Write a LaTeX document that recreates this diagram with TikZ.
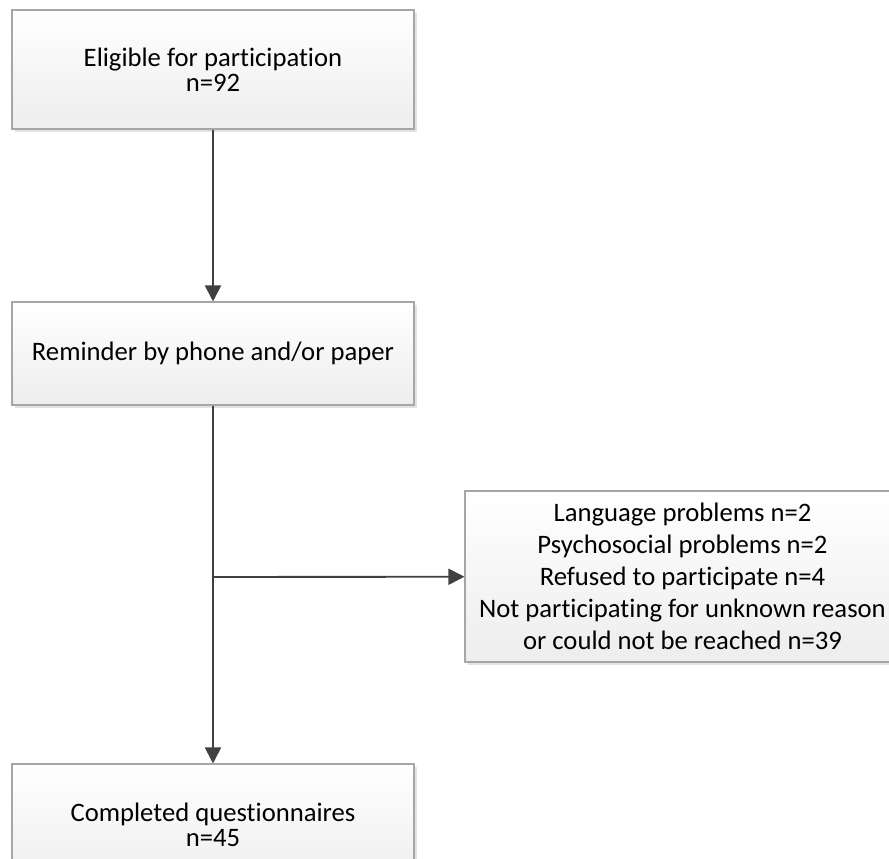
\documentclass[tikz,border=0pt]{standalone}
\usepackage{fontspec}
\setmainfont{Carlito}[Ligatures=NoCommon]
\usetikzlibrary{arrows.meta,positioning,shadows}

\begin{document}
\begin{tikzpicture}[x=0.75pt,y=-0.75pt,
 stagebox/.style={draw=gray!70,line width=0.8pt,top color=white,bottom color=gray!14,
  drop shadow={shadow xshift=2pt,shadow yshift=-2pt,fill=gray!45,opacity=0.5},
  align=center,inner sep=0pt,font=\fontsize{20}{18.75}\selectfont},
 flowarrow/.style={draw=black!75,line width=1.4pt,-{Triangle[length=12pt,width=12pt]}}]
\useasboundingbox (0,0) rectangle (889,859);
\node[stagebox,minimum width=301.5pt,minimum height=89.25pt] (elig) at (213,69.5)
 {Eligible for participation\\n=92};
\node[stagebox,minimum width=301.5pt,minimum height=77.25pt] (remind) at (213,353.5)
 {Reminder by phone and/or paper};
\node[stagebox,minimum width=301.5pt,minimum height=91.5pt] (done) at (213,825)
 {Completed questionnaires\\n=45};
\node[stagebox,minimum width=326.25pt,minimum height=128.25pt,
 font=\fontsize{20}{24}\selectfont] (lost) at (682.5,576.5)
 {Language problems n=2\\Psychosocial problems n=2\\Refused to participate n=4\\
  Not participating for unknown reason\\or could not be reached n=39};
\coordinate (branch) at (213,577);
\draw[flowarrow] (elig) -- (remind);
\draw[flowarrow] (remind) -- (done);
\draw[flowarrow] (branch) -- (lost);
\end{tikzpicture}
\end{document}
